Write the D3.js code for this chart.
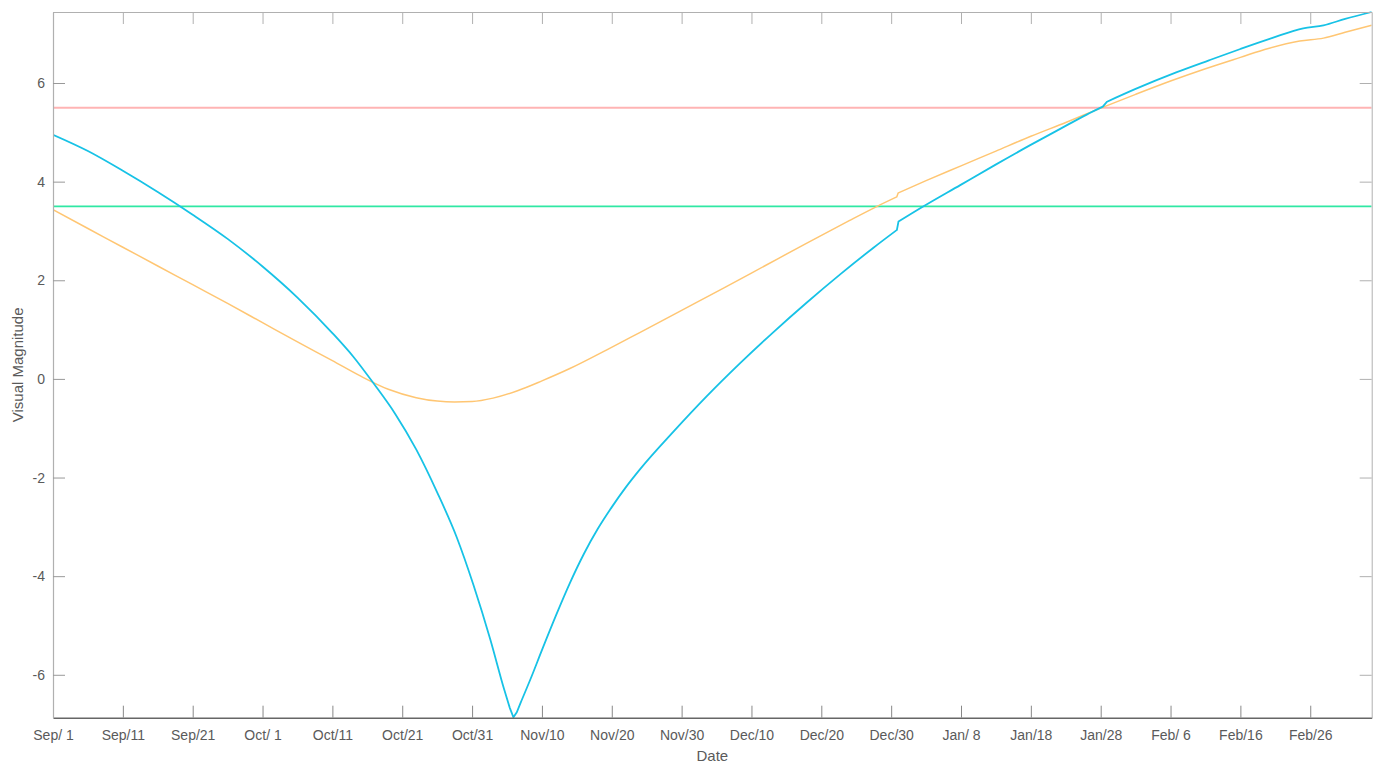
<!DOCTYPE html>
<html><head><meta charset="utf-8">
<script src="https://cdn.jsdelivr.net/npm/d3@7"></script>
<style>body{margin:0;background:#fff}svg{display:block}text{font-family:"Liberation Sans",Arial,Helvetica,sans-serif}</style>
</head><body>
<script>
// days since Sep 1 and visual magnitude
const blueDays = [0,5,10,15,20,25,30,35,40,43,46,49,52,55,57.8,60.2,62.6,64.6,65.4,65.92,66.4,67.0,68.5,70,72,74,76,78,80,82,84.06,88.83,93.61,98.38,103.15,107.93,112.70,117.47,120.82,121.05,124.16,129.89,134.9,139.91,144.2,148,150.3,150.9,155,160.9,165.5,170,174.5,179,181.9,185,188.8];
const blueMag  = [4.95,4.62,4.22,3.79,3.33,2.84,2.28,1.65,0.93,0.45,-0.11,-0.71,-1.43,-2.30,-3.21,-4.18,-5.28,-6.30,-6.67,-6.86,-6.76,-6.55,-6.04,-5.50,-4.80,-4.14,-3.55,-3.04,-2.60,-2.20,-1.83,-1.07,-0.35,0.32,0.95,1.55,2.12,2.66,3.02,3.19,3.46,3.93,4.34,4.74,5.07,5.36,5.52,5.62,5.88,6.22,6.46,6.69,6.91,7.11,7.17,7.30,7.44];
const orangeDays = [0,5,10,15,20,25,30,35,40,44,48,52,55,57.5,60,63,66.5,70,74,79.29,84,90,96,102,108,114,118,120.8,121.0,125,130,135,140,145,150,155,160,165,170,174,178.5,181.9,185,188.8];
const orangeMag  = [3.43,3.05,2.67,2.29,1.91,1.53,1.14,0.75,0.37,0.06,-0.21,-0.38,-0.45,-0.47,-0.46,-0.39,-0.24,-0.04,0.21,0.59,0.94,1.39,1.84,2.30,2.76,3.21,3.50,3.69,3.77,4.02,4.32,4.62,4.92,5.20,5.49,5.77,6.04,6.29,6.52,6.70,6.85,6.91,7.03,7.17];
const limitPink = 5.5;
const limitGreen = 3.5;
const xTickValues = [0,10,20,30,40,50,60,70,80,90,100,110,120,130,140,150,160,170,180];
const xTickLabels = ["Sep/ 1","Sep/11","Sep/21","Oct/ 1","Oct/11","Oct/21","Oct/31","Nov/10","Nov/20","Nov/30","Dec/10","Dec/20","Dec/30","Jan/ 8","Jan/18","Jan/28","Feb/ 6","Feb/16","Feb/26"];
const yTickValues = [-6,-4,-2,0,2,4,6];
const xDomain = [0,188.8];
const yDomain = [-6.87,7.44];

(function(){
const W=1379,H=763, m={l:53,t:12,r:7.3,b:45.3};
const svg=d3.select("body").append("svg").attr("width",W).attr("height",H);
const x=d3.scaleLinear().domain(xDomain).range([m.l,W-m.r]);
const y=d3.scaleLinear().domain(yDomain).range([H-m.b,m.t]);
const x0=m.l,x1=W-m.r,y0=H-m.b,y1=m.t;

svg.append("clipPath").attr("id","c").append("rect").attr("x",x0).attr("y",y1-2).attr("width",x1-x0).attr("height",y0-y1+4);
const plot=svg.append("g").attr("clip-path","url(#c)");
plot.append("line").attr("x1",x0).attr("x2",x1).attr("y1",y(limitPink)).attr("y2",y(limitPink)).attr("stroke","#ffb4b4").attr("stroke-width",2);
plot.append("line").attr("x1",x0).attr("x2",x1).attr("y1",y(limitGreen)).attr("y2",y(limitGreen)).attr("stroke","#30e8a4").attr("stroke-width",1.8);
const line=d3.line().x(d=>x(d[0])).y(d=>y(d[1])).curve(d3.curveMonotoneX);
// split at steps (points closer than 0.8 day) so steps stay sharp
function pathFor(days,mags){
  const pts=days.map((d,i)=>[d,mags[i]]);
  const segs=[[pts[0]]];
  for(let i=1;i<pts.length;i++){
    if(pts[i][0]-pts[i-1][0]<0.8) segs.push([pts[i]]); else segs[segs.length-1].push(pts[i]);
  }
  return segs.map((s,k)=>{let p=s.length>1?line(s):`M${x(s[0][0])},${y(s[0][1])}`; return k>0?p.replace(/^M/,"L"):p;}).join("");
}
plot.append("path").attr("d",pathFor(orangeDays,orangeMag)).attr("fill","none").attr("stroke","#ffc673").attr("stroke-width",1.5);
plot.append("path").attr("d",pathFor(blueDays,blueMag)).attr("fill","none").attr("stroke","#17c2e6").attr("stroke-width",1.8);

const tl=12;
const axB=svg.append("g").attr("transform",`translate(0,${y0})`).call(d3.axisBottom(x).tickValues(xTickValues).tickFormat((d,i)=>xTickLabels[i]).tickSizeInner(-tl).tickSizeOuter(0).tickPadding(10));
axB.select(".domain").attr("stroke","#666").attr("stroke-width",1.5);
axB.selectAll(".tick line").attr("stroke","#888");
axB.selectAll(".tick text").attr("font-size",14).attr("fill","#5a5a5a").attr("dy","0.85em");
const axT=svg.append("g").attr("transform",`translate(0,${y1})`).call(d3.axisTop(x).tickValues(xTickValues).tickFormat("").tickSizeInner(-tl).tickSizeOuter(0));
axT.select(".domain").attr("stroke","#b0b0b0");
axT.selectAll(".tick line").attr("stroke","#b0b0b0");
const axL=svg.append("g").attr("transform",`translate(${x0},0)`).call(d3.axisLeft(y).tickValues(yTickValues).tickFormat(d=>String(d)).tickSizeInner(-tl).tickSizeOuter(0).tickPadding(8));
axL.select(".domain").attr("stroke","#b0b0b0").attr("stroke-width",1.2);
axL.selectAll(".tick line").attr("stroke","#999");
axL.selectAll(".tick text").attr("font-size",14).attr("fill","#5a5a5a");
const axR=svg.append("g").attr("transform",`translate(${x1},0)`).call(d3.axisRight(y).tickValues(yTickValues).tickFormat("").tickSizeInner(-tl).tickSizeOuter(0));
axR.select(".domain").attr("stroke","#b0b0b0");
axR.selectAll(".tick line").attr("stroke","#b0b0b0");
svg.selectAll(".domain").attr("fill","none");

svg.append("text").attr("x",(x0+x1)/2).attr("y",761).attr("text-anchor","middle").attr("font-size",15).attr("fill","#5a5a5a").text("Date");
svg.append("text").attr("transform",`translate(23,${(y0+y1)/2}) rotate(-90)`).attr("text-anchor","middle").attr("font-size",15).attr("fill","#5a5a5a").text("Visual Magnitude");
})();
</script>
</body></html>
